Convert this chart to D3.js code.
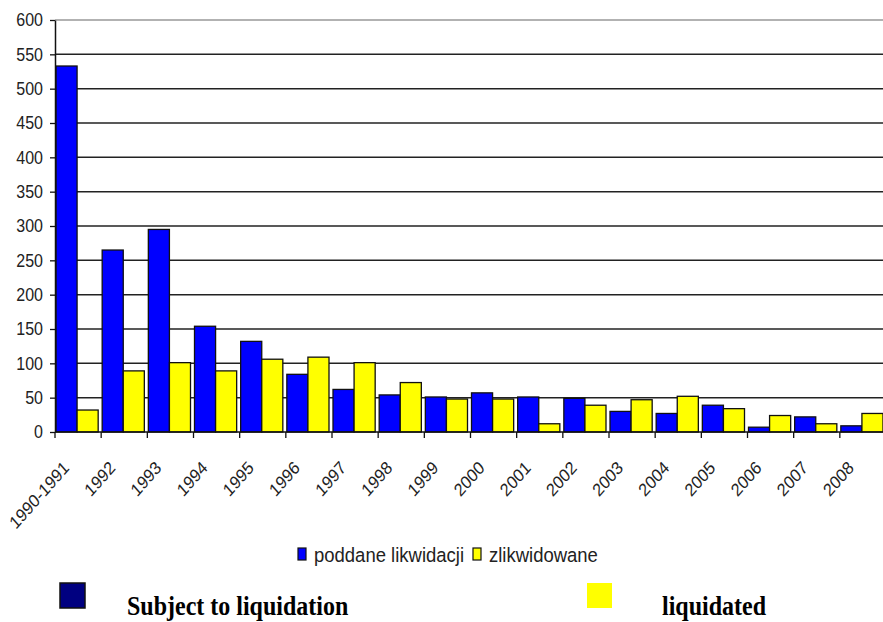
<!DOCTYPE html>
<html>
<head>
<meta charset="utf-8">
<script src="https://cdn.jsdelivr.net/npm/d3@7"></script>
<style>
  body { margin: 0; background: #fff; }
  svg { display: block; }
</style>
</head>
<body>
<div id="chart"></div>
<script>
// categories and series
var years = ["1990-1991", "1992", "1993", "1994", "1995", "1996", "1997", "1998", "1999",
  "2000", "2001", "2002", "2003", "2004", "2005", "2006", "2007", "2008"];
var subject = [533, 265, 295, 154, 132, 84, 62, 54, 51, 57, 51, 49, 30, 27, 39, 7, 22, 9];
var liquidated = [32, 89, 101, 89, 106, 109, 101, 72, 48, 48, 12, 39, 47, 52, 34, 24, 12, 27];
var yTicks = [0, 50, 100, 150, 200, 250, 300, 350, 400, 450, 500, 550, 600];
var seriesNames = ["poddane likwidacji", "zlikwidowane"];
var seriesColors = ["#0000ff", "#ffff00"];

(function () {
var W = 883, H = 622;
var plotL = 55, plotR = 886, plotT = 20, plotB = 432;
var stretch = "scale(1,1.13)"; // the source picture is a bit taller than wide

var svg = d3.select("#chart").append("svg")
  .attr("width", W).attr("height", H)
  .style("font-family", "'Liberation Sans', Arial, sans-serif");

var x = d3.scaleBand().domain(years).range([plotL, plotR]).paddingInner(0).paddingOuter(0);
var x1 = d3.scaleBand().domain([0, 1]).range([1, x.bandwidth() - 3]);
var y = d3.scaleLinear().domain([0, 600]).range([plotB, plotT]);

// gridlines
svg.append("g").selectAll("line").data(yTicks.filter(function (d) { return d > 0; }))
  .enter().append("line")
  .attr("x1", plotL).attr("x2", W)
  .attr("y1", function (d) { return y(d); })
  .attr("y2", function (d) { return y(d); })
  .attr("stroke", function (d) { return d === 600 ? "#999" : "#222"; })
  .attr("stroke-width", 1.5);

// bars
var rows = years.map(function (yr, i) { return { year: yr, vals: [subject[i], liquidated[i]] }; });
var grp = svg.append("g").selectAll("g").data(rows).enter().append("g")
  .attr("transform", function (d) { return "translate(" + x(d.year) + ",0)"; });
grp.selectAll("rect").data(function (d) { return d.vals; }).enter().append("rect")
  .attr("x", function (d, i) { return x1(i); })
  .attr("width", x1.bandwidth())
  .attr("y", function (d) { return y(d); })
  .attr("height", function (d) { return plotB - y(d); })
  .attr("fill", function (d, i) { return seriesColors[i]; })
  .attr("stroke", "#111").attr("stroke-width", 1.3);

// y axis
var yAxis = svg.append("g").attr("transform", "translate(" + plotL + ",0)")
  .call(d3.axisLeft(y).tickValues(yTicks).tickSize(5).tickSizeOuter(0).tickPadding(7));
yAxis.select(".domain").attr("stroke", "#111").attr("stroke-width", 1.5);
yAxis.selectAll(".tick line").attr("stroke", "#111").attr("stroke-width", 1.3);
yAxis.selectAll("text").attr("font-size", 16).attr("fill", "#222")
  .attr("font-family", "'Liberation Sans', Arial, sans-serif")
  .attr("transform", stretch);

// x axis line and ticks at category boundaries
svg.append("line").attr("x1", plotL).attr("x2", W).attr("y1", plotB).attr("y2", plotB)
  .attr("stroke", "#111").attr("stroke-width", 1.5);
svg.append("g").selectAll("line").data(years).enter().append("line")
  .attr("x1", function (d) { return x(d); }).attr("x2", function (d) { return x(d); })
  .attr("y1", plotB).attr("y2", plotB + 6)
  .attr("stroke", "#111").attr("stroke-width", 1.3);

// rotated category labels
svg.append("g").selectAll("text").data(years).enter().append("text")
  .attr("transform", function (d) {
    return "translate(" + (x(d) + x.bandwidth() / 2 - 8) + "," + 469 + ") " + stretch + " rotate(-45)";
  })
  .attr("text-anchor", "end")
  .attr("font-size", 16).attr("fill", "#222")
  .text(function (d) { return d; });

// legend inside chart
var legX = [298, 473];
var leg = svg.append("g").selectAll("g").data(seriesNames).enter().append("g");
leg.append("rect")
  .attr("x", function (d, i) { return legX[i]; }).attr("y", 548)
  .attr("width", 8).attr("height", 12)
  .attr("fill", function (d, i) { return seriesColors[i]; })
  .attr("stroke", "#111").attr("stroke-width", 1.2);
leg.append("text")
  .attr("transform", function (d, i) { return "translate(" + (legX[i] + 16) + ",562) " + stretch; })
  .attr("font-size", 18.5).attr("fill", "#222")
  .text(function (d) { return d; });

// English legend below
var engNames = ["Subject to liquidation", "liquidated"];
var engColors = ["#000080", "#ffff00"];
var engBox = [60, 587];
var engText = [127, 662];
var eng = svg.append("g").selectAll("g").data(engNames).enter().append("g");
eng.append("rect")
  .attr("x", function (d, i) { return engBox[i]; }).attr("y", 583)
  .attr("width", 25).attr("height", 25)
  .attr("fill", function (d, i) { return engColors[i]; })
  .attr("stroke", function (d, i) { return i === 0 ? "#111" : "none"; })
  .attr("stroke-width", 1.5);
eng.append("text")
  .attr("transform", function (d, i) { return "translate(" + engText[i] + ",615) " + stretch; })
  .attr("font-family", "'Liberation Serif', 'Times New Roman', serif")
  .attr("font-weight", "bold").attr("font-size", 24).attr("fill", "#000")
  .text(function (d) { return d; });
})();
</script>
</body>
</html>
